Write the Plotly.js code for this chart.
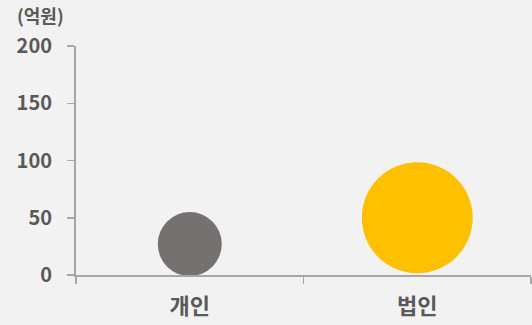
<!DOCTYPE html>
<html>
<head>
<meta charset="utf-8">
<script src="https://cdn.plot.ly/plotly-3.0.1.min.js"></script>
<style>
  html, body { margin: 0; padding: 0; background: #f2f2f2; }
  #chart { width: 532px; height: 325px; }
</style>
</head>
<body>
<div id="chart"></div>
<script>
// Data
const categories = ['개인', '법인'];
const amounts = [27, 50];          // 억원
const bubbleWeights = [1, 3];      // relative bubble size
const unitLabel = '(억원)';
const yTickValues = [0, 50, 100, 150, 200];

const colors = ['#767171', '#FFC000'];
const FONT = '"Noto Sans CJK KR", "Noto Sans", sans-serif';
const TXT = '#595959';
const AX = '#a6a6a6';

const trace = {
  type: 'scatter',
  mode: 'markers',
  x: categories,
  y: amounts,
  marker: {
    size: bubbleWeights,
    sizemode: 'area',
    sizeref: 1 / 2048,
    color: colors,
    opacity: 1,
    line: { width: 0 }
  },
  hoverinfo: 'none',
  cliponaxis: false
};

const layout = {
  width: 532,
  height: 325,
  paper_bgcolor: '#f2f2f2',
  plot_bgcolor: '#f2f2f2',
  margin: { l: 76, r: 1, t: 46, b: 50, pad: 0 },
  showlegend: false,
  font: { family: FONT, color: TXT },
  xaxis: {
    type: 'category',
    range: [-0.5, 1.5],
    tickson: 'boundaries',
    ticks: 'outside',
    ticklen: 7,
    tickwidth: 1.5,
    tickcolor: AX,
    showline: true,
    linecolor: AX,
    linewidth: 2,
    showgrid: false,
    zeroline: false,
    ticklabelstandoff: 11,
    tickfont: { family: FONT, size: 22, color: TXT, weight: 'bold' },
    fixedrange: true
  },
  yaxis: {
    range: [0, 200],
    tickmode: 'array',
    tickvals: yTickValues,
    ticktext: yTickValues.map(String),
    ticks: 'outside',
    ticklen: 7,
    tickwidth: 1.5,
    tickcolor: AX,
    showline: true,
    linecolor: AX,
    linewidth: 2,
    showgrid: false,
    zeroline: false,
    ticklabelstandoff: 11,
    tickfont: { family: FONT, size: 20, color: TXT, weight: 'bold' },
    fixedrange: true
  },
  annotations: [{
    text: unitLabel,
    xref: 'paper', yref: 'paper',
    x: (40 - 76) / 455, y: 1 + (46 - 15) / 229,
    xanchor: 'center', yanchor: 'middle',
    showarrow: false,
    font: { family: FONT, size: 18, color: TXT, weight: 'bold' }
  }]
};

Plotly.newPlot('chart', [trace], layout, { displayModeBar: false, staticPlot: true });
</script>
</body>
</html>
